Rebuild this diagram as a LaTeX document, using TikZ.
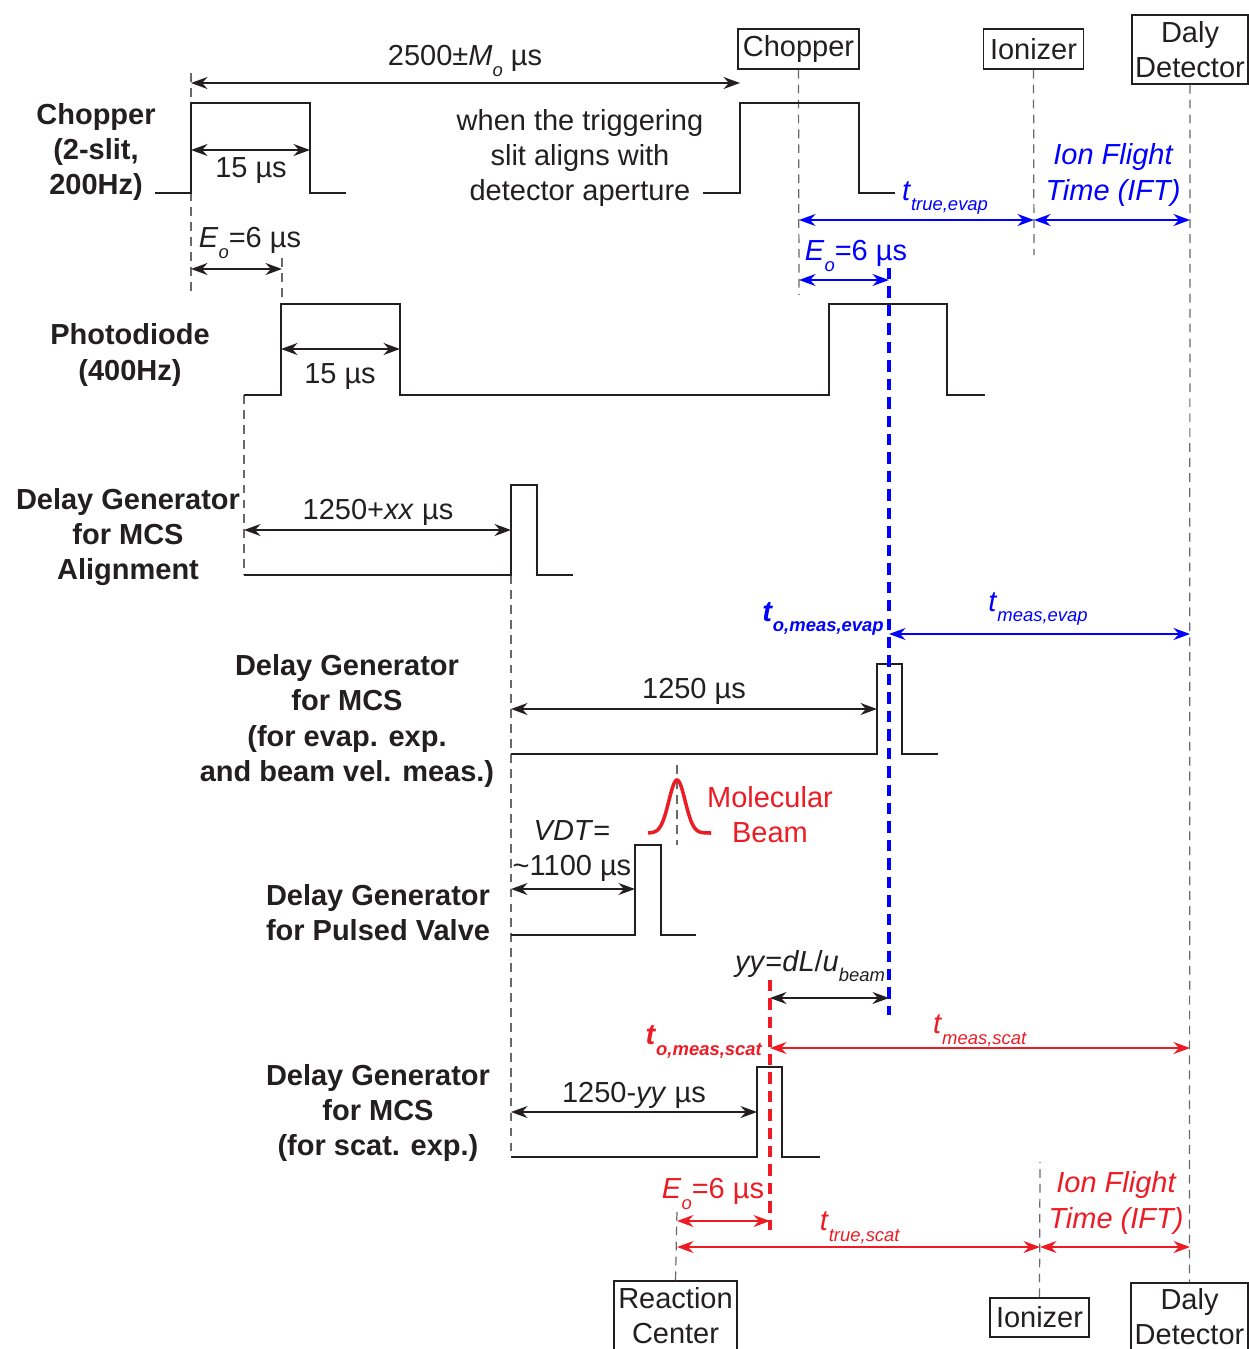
\documentclass[tikz,border=0pt]{standalone}
\usepackage{fontspec}
\setmainfont{Liberation Sans}
\usetikzlibrary{arrows.meta}
\definecolor{ink}{RGB}{35,31,32}
\definecolor{evapblue}{RGB}{0,0,255}
\definecolor{scatred}{RGB}{237,28,36}
\definecolor{dashgray}{RGB}{105,105,105}
\newcommand\lsub[1]{\raisebox{-0.36em}{\fontsize{10.5}{11}\selectfont #1}}

\begin{document}
\begin{tikzpicture}[x=0.02cm,y=-0.02cm,>={Stealth[length=3.3mm,width=2.4mm]},
  font=\fontsize{16.5}{20}\selectfont,text=ink,
  sig/.style={ink,line width=1.1pt},
  dim/.style={<->,ink,line width=0.95pt},
  guide/.style={dashgray,line width=0.7pt,dash pattern=on 5pt off 3.5pt},
  tline/.style={line width=2.3pt,dash pattern=on 6.5pt off 4pt},
  box/.style={draw=ink,line width=0.85pt,inner sep=0pt,align=center},
  lbl/.style={font=\fontsize{16.5}{20}\selectfont\bfseries,align=center},
  ift/.style={font=\fontsize{16.5}{20}\selectfont\itshape,align=center}]
\useasboundingbox (0,0) rectangle (1248,1349);
\node[box,minimum width=2.42cm,minimum height=0.8cm] (chopT) at (798.5,49) {Chopper};
\node[box,minimum width=2cm,minimum height=0.8cm] (ionT) at (1033.5,49) {Ionizer};
\node[box,minimum width=2.32cm,minimum height=1.38cm] (dalyT) at (1190,49.5) {Daly\\Detector};
\node[box,minimum width=2.46cm,minimum height=1.4cm] (rcB) at (675.5,1316) {Reaction\\Center};
\node[box,minimum width=1.98cm,minimum height=0.78cm] (ionB) at (1039.5,1317.5) {Ionizer};
\node[box,minimum width=2.34cm,minimum height=1.36cm] (dalyB) at (1189.5,1317) {Daly\\Detector};
\draw[guide] (191,73) -- (191,295);
\draw[guide] (282,258) -- (282,300);
\draw[guide] (chopT.south) -- (799,295);
\draw[guide] (ionT.south) -- (1034,255);
\draw[guide] (dalyT.south) -- (dalyB.north);
\draw[guide] (244,395) -- (244,575);
\draw[guide] (511,575) -- (511,1157);
\draw[guide] (677,765) -- (677,845);
\draw[guide] (rcB.north) -- (677,1210);
\draw[guide] (ionB.north) -- (1040,1162);
\draw[sig] (155,193) -| (191,103) -| (310,193) -- (346,193);
\draw[sig] (703,193) -| (740,103) -| (859,193) -- (895,193);
\draw[sig] (244,395) -| (281,304) -| (400,395) -| (829,304) -| (947,395) -- (985,395);
\draw[sig] (244,575) -| (511,485) -| (537,575) -- (573,575);
\draw[sig] (511,754) -| (877,664) -| (902,754) -- (938,754);
\draw[sig] (511,935) -| (635,845) -| (661,935) -- (696,935);
\draw[sig] (511,1157) -| (757,1067) -| (782,1157) -- (820,1157);
\draw[scatred,line width=2pt] plot[domain=648:711,samples=60,smooth] (\x,{833-53*exp(-((\x-677)/11.5)^2)});
\draw[dim] (191,83) -- (740,83);
\draw[dim] (191,150) -- (310,150);
\draw[dim] (191,269) -- (282,269);
\draw[dim] (281,349) -- (400,349);
\draw[dim] (244,530) -- (511,530);
\draw[dim] (511,709) -- (877,709);
\draw[dim] (511,889) -- (635,889);
\draw[dim] (770,998) -- (889,998);
\draw[dim] (511,1112) -- (757,1112);
\draw[tline,evapblue] (889,268) -- (889,1015);
\draw[dim,evapblue] (799,220) -- (1034,220);
\draw[dim,evapblue] (1034,220) -- (1190,220);
\draw[dim,evapblue] (799,280) -- (889,280);
\draw[dim,evapblue] (889,634) -- (1190,634);
\draw[tline,scatred] (770,980) -- (770,1230);
\draw[dim,scatred] (770,1048) -- (1190,1048);
\draw[dim,scatred] (677,1221) -- (770,1221);
\draw[dim,scatred] (677,1247) -- (1040,1247);
\draw[dim,scatred] (1040,1247) -- (1190,1247);
\node[lbl] (chopL) at (96,152) {Chopper\\(2-slit,\\200Hz)};
\node (period) at (465,61) {2500±\textit{M}\lsub{\textit{o}} µs};
\node (wchop) at (251,171) {15 µs};
\node (eoA) at (250,243) {\textit{E}\lsub{\textit{o}}=6 µs};
\node[align=center] (note) at (580,158) {when the triggering\\slit aligns with\\detector aperture};
\node[text=evapblue] (tte) at (945,198) {\textit{t}\lsub{\textit{true,evap}}};
\node[ift,text=evapblue] (ifte) at (1113,175) {Ion Flight\\Time (IFT)};
\node[text=evapblue] (eoB) at (856,256) {\textit{E}\lsub{\textit{o}}=6 µs};
\node[lbl] (photoL) at (130,355) {Photodiode\\(400Hz)};
\node (wphoto) at (340,377) {15 µs};
\node[lbl] (alignL) at (128,537) {Delay Generator\\for MCS\\Alignment};
\node (dalign) at (378,512) {1250+\textit{xx} µs};
\node[text=evapblue] (toe) at (823,619) {\textbf{\textit{t}\lsub{\textit{o,meas,evap}}}};
\node[text=evapblue] (tme) at (1038,609) {\textit{t}\lsub{\textit{meas,evap}}};
\node[lbl] (evapL) at (347,721) {Delay Generator\\for MCS\\(for evap. exp.\\and beam vel. meas.)};
\node (devap) at (694,691) {1250 µs};
\node[text=scatred,align=center] (beam) at (770,815) {Molecular\\Beam};
\node[align=center] (vdt) at (572,851) {\textit{VDT}=\\\textasciitilde1100 µs};
\node[lbl] (valveL) at (378,913) {Delay Generator\\for Pulsed Valve};
\node (yy) at (810,966) {\textit{yy}=\textit{dL}/\textit{u}\lsub{\textit{beam}}};
\node[text=scatred] (tos) at (704,1042) {\textbf{\textit{t}\lsub{\textit{o,meas,scat}}}};
\node[text=scatred] (tms) at (980,1031) {\textit{t}\lsub{\textit{meas,scat}}};
\node[lbl] (scatL) at (378,1113) {Delay Generator\\for MCS\\(for scat. exp.)};
\node (dscat) at (634,1095) {1250-\textit{yy} µs};
\node[text=scatred] (eoC) at (713,1194) {\textit{E}\lsub{\textit{o}}=6 µs};
\node[text=scatred] (tts) at (860,1228) {\textit{t}\lsub{\textit{true,scat}}};
\node[ift,text=scatred] (ifts) at (1116,1203) {Ion Flight\\Time (IFT)};
\end{tikzpicture}
\end{document}
